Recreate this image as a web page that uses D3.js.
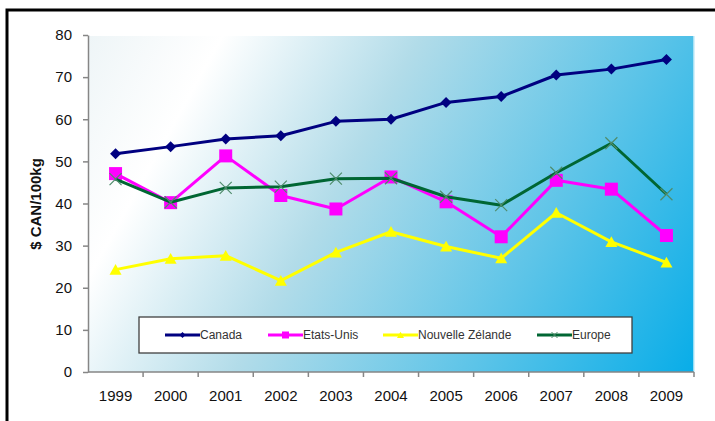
<!DOCTYPE html>
<html>
<head>
<meta charset="utf-8">
<script src="https://cdn.jsdelivr.net/npm/d3@7"></script>
<style>
  html, body { margin: 0; padding: 0; background: #ffffff; }
  svg { display: block; font-family: "Liberation Sans", Arial, sans-serif; }
</style>
</head>
<body>
<svg id="chart" width="715" height="421"></svg>
<script>
// Prix du lait par pays, $ CAN/100kg, 1999-2009
const years = ["1999", "2000", "2001", "2002", "2003", "2004", "2005", "2006", "2007", "2008", "2009"];
const canada = [51.8, 53.5, 55.3, 56.1, 59.5, 60.0, 64.0, 65.4, 70.5, 71.9, 74.2];
const etatsUnis = [47.1, 40.2, 51.3, 41.9, 38.7, 46.3, 40.4, 32.1, 45.5, 43.4, 32.4];
const nouvelleZelande = [24.3, 26.9, 27.6, 21.7, 28.4, 33.3, 29.8, 27.0, 37.8, 30.9, 26.0];
const europe = [45.8, 40.3, 43.7, 44.0, 45.9, 46.0, 41.6, 39.6, 47.3, 54.3, 42.2];
const seriesNames = ["Canada", "Etats-Unis", "Nouvelle Zélande", "Europe"];
const yTicks = [0, 10, 20, 30, 40, 50, 60, 70, 80];

const series = [
  { name: seriesNames[0], values: canada, color: "#000080", marker: "diamond" },
  { name: seriesNames[1], values: etatsUnis, color: "#ff00ff", marker: "square" },
  { name: seriesNames[2], values: nouvelleZelande, color: "#ffff00", marker: "triangle" },
  { name: seriesNames[3], values: europe, color: "#006633", marker: "cross", markerColor: "#4f8c6c" }
];

const svg = d3.select("#chart");
const plot = { left: 88, right: 694, top: 36, bottom: 372 };

// outer frame (open on the right and bottom, as cropped)
svg.append("rect")
  .attr("x", 7).attr("y", 10)
  .attr("width", 760).attr("height", 460)
  .attr("fill", "none").attr("stroke", "#000").attr("stroke-width", 3);

const x = d3.scaleBand().domain(years).range([plot.left, plot.right]).padding(0);
const y = d3.scaleLinear().domain([0, 80]).range([plot.bottom, 35]);
const cx = d => x(d) + x.bandwidth() / 2;

// plot area background gradient
const defs = svg.append("defs");
const grad = defs.append("linearGradient")
  .attr("id", "bg").attr("gradientUnits", "userSpaceOnUse")
  .attr("x1", plot.left).attr("y1", plot.top)
  .attr("x2", plot.right).attr("y2", plot.bottom);
[[0, "#eef5f7"], [0.17, "#ffffff"], [0.42, "#b2dce9"], [0.72, "#5cc4e8"], [1, "#08ade8"]]
  .forEach(([o, c]) => grad.append("stop").attr("offset", o).attr("stop-color", c));

svg.append("rect")
  .attr("x", plot.left).attr("y", plot.top)
  .attr("width", plot.right - plot.left).attr("height", plot.bottom - plot.top)
  .attr("fill", "url(#bg)");
svg.append("line")
  .attr("x1", plot.right).attr("x2", plot.right)
  .attr("y1", plot.top).attr("y2", plot.bottom)
  .attr("stroke", "#c8ecf8").attr("stroke-width", 1.5);

// y axis
const yAxis = svg.append("g")
  .attr("transform", `translate(${plot.left},0)`)
  .call(d3.axisLeft(y).tickValues(yTicks).tickSize(5).tickPadding(11).tickSizeOuter(0));
yAxis.select(".domain").attr("stroke", "#868686").attr("stroke-width", 1.5);
yAxis.selectAll(".tick line").attr("stroke", "#868686").attr("stroke-width", 1.5);
yAxis.selectAll("text").attr("font-size", 15).attr("fill", "#111")
  .attr("font-family", "Liberation Sans, Arial, sans-serif");

// x axis: labels centred in the bands, ticks on band boundaries
const xAxis = svg.append("g")
  .attr("transform", `translate(0,${plot.bottom})`)
  .call(d3.axisBottom(x).tickSize(0).tickPadding(18).tickSizeOuter(0));
xAxis.select(".domain").remove();
xAxis.selectAll("text").attr("font-size", 15).attr("fill", "#111")
  .attr("font-family", "Liberation Sans, Arial, sans-serif");
svg.append("line")
  .attr("x1", plot.left).attr("x2", plot.right)
  .attr("y1", plot.bottom).attr("y2", plot.bottom)
  .attr("stroke", "#868686").attr("stroke-width", 1.5);
const bounds = years.map(d => x(d)).concat([x(years[years.length - 1]) + x.bandwidth()]);
svg.append("g").selectAll("line").data(bounds.slice(1)).join("line")
  .attr("x1", d => d).attr("x2", d => d)
  .attr("y1", plot.bottom).attr("y2", plot.bottom + 5)
  .attr("stroke", "#868686").attr("stroke-width", 1.5);

// y axis title
svg.append("text")
  .attr("transform", `translate(41,${(plot.top + plot.bottom) / 2}) rotate(-90)`)
  .attr("text-anchor", "middle")
  .attr("font-size", 15).attr("font-weight", "bold").attr("fill", "#111")
  .text("$ CAN/100kg");

// marker shapes
function markerPath(type, s) {
  const h = s / 2;
  switch (type) {
    case "diamond": return `M0,${-h}L${h},0L0,${h}L${-h},0Z`;
    case "square": return `M${-h},${-h}H${h}V${h}H${-h}Z`;
    case "triangle": return `M0,${-h * 0.95}L${h},${h * 0.85}L${-h},${h * 0.85}Z`;
    case "cross": return `M${-h},${-h}L${h},${h}M${h},${-h}L${-h},${h}`;
  }
}
const markerSize = { diamond: 11, square: 13, triangle: 12, cross: 12 };

const line = d3.line().x((v, i) => cx(years[i])).y(v => y(v));

series.forEach(s => {
  const g = svg.append("g");
  g.append("path")
    .attr("d", line(s.values))
    .attr("fill", "none").attr("stroke", s.color)
    .attr("stroke-width", 3).attr("stroke-linejoin", "round");
  g.selectAll("path.m").data(s.values).join("path")
    .attr("class", "m")
    .attr("transform", (v, i) => `translate(${cx(years[i])},${y(v)})`)
    .attr("d", markerPath(s.marker, markerSize[s.marker]))
    .attr("fill", s.marker === "cross" ? "none" : s.color)
    .attr("stroke", s.marker === "cross" ? s.markerColor : "none")
    .attr("stroke-width", 1.2);
});

// legend
const legend = svg.append("g");
legend.append("rect")
  .attr("x", 139).attr("y", 317).attr("width", 493).attr("height", 36)
  .attr("fill", "#fff").attr("stroke", "#404040").attr("stroke-width", 1.3);
const legendX = [165, 268, 383, 537];
const legendMarker = { diamond: 6, square: 7, triangle: 7, cross: 6 };
series.forEach((s, i) => {
  const lg = legend.append("g").attr("transform", `translate(${legendX[i]},335)`);
  lg.append("line").attr("x1", 0).attr("x2", 35)
    .attr("stroke", s.color).attr("stroke-width", 3);
  lg.append("path")
    .attr("transform", "translate(17.5,0)")
    .attr("d", markerPath(s.marker, legendMarker[s.marker]))
    .attr("fill", s.marker === "cross" ? "none" : s.color)
    .attr("stroke", s.marker === "cross" ? s.markerColor : "none")
    .attr("stroke-width", 1);
  lg.append("text").attr("x", 35).attr("dy", "0.35em")
    .attr("font-size", 12).attr("fill", "#333")
    .text(s.name);
});
</script>
</body>
</html>
